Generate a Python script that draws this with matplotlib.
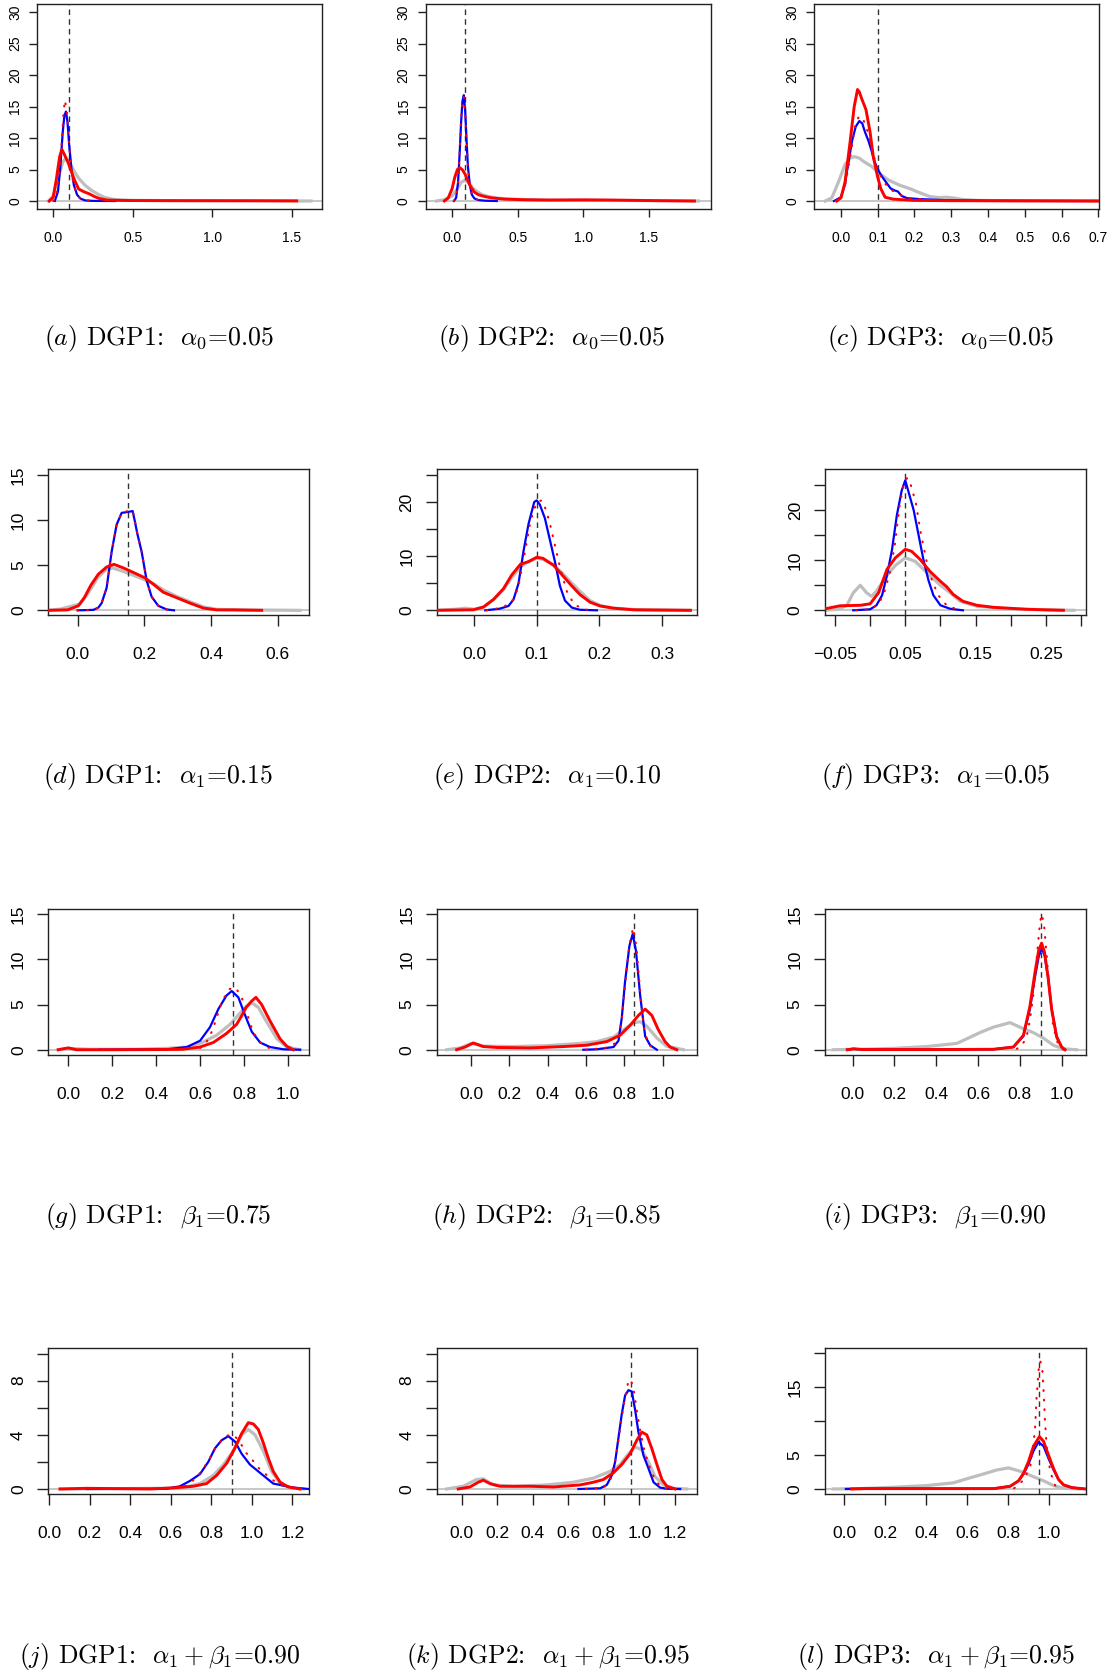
import matplotlib
matplotlib.use("Agg")
import matplotlib.pyplot as plt
from matplotlib import font_manager

# ---------------- data ----------------
# panel (a)
a_gray_x = [-0.03, 0.0, 0.03, 0.06, 0.08, 0.10, 0.13, 0.16, 0.20, 0.24, 0.28, 0.32, 0.38, 0.5, 0.8, 1.2, 1.62]
a_gray_y = [0.0, 0.8, 3.5, 6.2, 6.8, 6.2, 4.8, 3.6, 2.5, 1.7, 1.1, 0.6, 0.25, 0.1, 0.05, 0.03, 0.0]
a_blue_x = [0.01, 0.03, 0.045, 0.06, 0.07, 0.08, 0.09, 0.10, 0.115, 0.13, 0.15, 0.17, 0.2, 0.25, 0.39]
a_blue_y = [0.0, 1.5, 5.5, 11.0, 13.5, 14.2, 12.5, 9.0, 5.0, 2.5, 1.0, 0.4, 0.1, 0.02, 0.0]
a_dot_x = [0.0, 0.02, 0.04, 0.055, 0.065, 0.073, 0.085, 0.095, 0.11, 0.125, 0.145, 0.17, 0.2, 0.27]
a_dot_y = [0.0, 0.8, 4.5, 10.0, 14.0, 16.0, 14.5, 10.5, 6.0, 3.0, 1.2, 0.4, 0.1, 0.0]
a_red_x = [-0.025, 0.0, 0.02, 0.04, 0.054, 0.07, 0.095, 0.115, 0.136, 0.16, 0.19, 0.23, 0.26, 0.29, 0.34, 0.45, 0.7, 1.0, 1.3, 1.53]
a_red_y = [0.0, 0.6, 3.5, 7.0, 8.2, 7.4, 6.0, 4.6, 3.2, 1.9, 1.5, 1.1, 0.7, 0.4, 0.15, 0.08, 0.06, 0.05, 0.04, 0.02]

# panel (b)
b_gray_x = [-0.12, -0.06, 0.0, 0.04, 0.07, 0.097, 0.13, 0.16, 0.19, 0.23, 0.28, 0.35, 0.45, 0.7, 1.0, 1.4, 1.88]
b_gray_y = [0.0, 0.2, 0.8, 2.0, 3.0, 3.3, 2.8, 2.0, 1.5, 1.0, 0.7, 0.45, 0.3, 0.15, 0.12, 0.08, 0.0]
b_blue_x = [0.013, 0.03, 0.045, 0.058, 0.068, 0.078, 0.089, 0.1, 0.11, 0.12, 0.135, 0.15, 0.17, 0.2, 0.25, 0.34]
b_blue_y = [0.0, 0.5, 3.0, 8.0, 12.5, 15.8, 16.8, 14.0, 9.5, 5.5, 2.5, 1.0, 0.4, 0.15, 0.05, 0.0]
b_dot_x = [0.013, 0.03, 0.045, 0.058, 0.068, 0.078, 0.089, 0.1, 0.11, 0.12, 0.135, 0.15, 0.17, 0.2, 0.25]
b_dot_y = [0.0, 0.5, 3.0, 8.5, 13.0, 16.2, 16.5, 14.0, 9.5, 5.5, 2.5, 1.0, 0.4, 0.15, 0.05]
b_red_x = [-0.06, -0.03, 0.0, 0.02, 0.04, 0.058, 0.08, 0.1, 0.12, 0.14, 0.17, 0.2, 0.25, 0.3, 0.4, 0.55, 0.75, 1.0, 1.2, 1.4, 1.6, 1.85]
b_red_y = [0.0, 0.5, 2.0, 3.8, 5.0, 5.3, 4.9, 4.2, 3.2, 2.3, 1.4, 1.0, 0.7, 0.5, 0.3, 0.2, 0.15, 0.18, 0.15, 0.1, 0.05, 0.0]

# panel (c)
c_gray_x = [-0.043, -0.025, -0.007, 0.011, 0.025, 0.036, 0.05, 0.061, 0.083, 0.106, 0.13, 0.16, 0.19, 0.215, 0.242, 0.265, 0.287, 0.31, 0.33, 0.37, 0.45, 0.6, 0.7]
c_gray_y = [0.0, 0.5, 3.0, 5.8, 6.8, 7.05, 6.8, 6.3, 5.5, 4.3, 3.3, 2.5, 1.9, 1.3, 0.7, 0.55, 0.6, 0.45, 0.25, 0.1, 0.05, 0.02, 0.0]
c_blue_x = [-0.019, 0.0, 0.01, 0.02, 0.03, 0.04, 0.05, 0.058, 0.065, 0.075, 0.083, 0.09, 0.098, 0.107, 0.115, 0.125, 0.135, 0.145, 0.155, 0.165, 0.18, 0.215, 0.28, 0.4, 0.55, 0.7]
c_blue_y = [0.0, 0.6, 2.5, 6.0, 9.5, 11.8, 12.7, 12.3, 11.0, 9.5, 8.0, 6.5, 5.3, 4.3, 3.6, 2.8, 2.0, 1.7, 1.5, 0.8, 0.45, 0.3, 0.15, 0.05, 0.02, 0.0]
c_dot_x = [-0.01, 0.01, 0.025, 0.04, 0.05, 0.06, 0.07, 0.08, 0.09, 0.1, 0.115, 0.13, 0.15, 0.18, 0.25]
c_dot_y = [0.0, 2.0, 7.0, 12.5, 13.5, 13.0, 11.5, 9.5, 7.0, 5.0, 3.2, 2.0, 1.3, 0.5, 0.1]
c_red_x = [-0.012, 0.0, 0.011, 0.024, 0.036, 0.045, 0.05, 0.056, 0.068, 0.079, 0.088, 0.099, 0.108, 0.12, 0.142, 0.197, 0.3, 0.5, 0.7]
c_red_y = [0.0, 0.5, 3.0, 9.0, 15.0, 17.7, 17.3, 16.3, 14.5, 11.0, 7.0, 4.0, 2.0, 0.6, 0.3, 0.1, 0.05, 0.02, 0.0]

# panel (d)
d_gray_x = [-0.088, -0.05, -0.02, 0.007, 0.03, 0.06, 0.085, 0.105, 0.13, 0.16, 0.2, 0.23, 0.26, 0.3, 0.34, 0.38, 0.42, 0.5, 0.667]
d_gray_y = [0.0, 0.15, 0.45, 0.7, 1.8, 3.6, 4.5, 4.7, 4.4, 4.0, 3.4, 2.9, 2.2, 1.5, 0.9, 0.35, 0.1, 0.05, 0.0]
d_blue_x = [0.0, 0.047, 0.062, 0.072, 0.087, 0.102, 0.117, 0.132, 0.15, 0.165, 0.172, 0.179, 0.192, 0.207, 0.222, 0.242, 0.267, 0.289]
d_blue_y = [0.0, 0.05, 0.3, 0.8, 2.5, 6.5, 9.5, 10.8, 10.9, 11.0, 9.8, 8.5, 6.5, 3.3, 1.5, 0.5, 0.1, 0.0]
d_dot_x = [0.0, 0.047, 0.062, 0.072, 0.087, 0.102, 0.117, 0.132, 0.15, 0.165, 0.172, 0.179, 0.192, 0.207, 0.222, 0.242, 0.267, 0.289]
d_dot_y = [0.0, 0.05, 0.3, 0.8, 2.5, 6.5, 9.5, 10.8, 11.0, 11.1, 9.8, 8.5, 6.5, 3.3, 1.5, 0.5, 0.1, 0.0]
d_red_x = [-0.088, -0.03, 0.002, 0.02, 0.04, 0.062, 0.087, 0.109, 0.137, 0.167, 0.202, 0.227, 0.257, 0.297, 0.337, 0.377, 0.417, 0.467, 0.552]
d_red_y = [0.0, 0.05, 0.5, 1.4, 2.8, 4.0, 4.8, 5.1, 4.7, 4.2, 3.6, 2.9, 2.0, 1.4, 0.8, 0.25, 0.05, 0.05, 0.0]

# panel (e)
e_gray_x = [-0.06, -0.03, -0.014, 0.0, 0.015, 0.031, 0.047, 0.06, 0.074, 0.087, 0.1, 0.11, 0.127, 0.143, 0.156, 0.169, 0.185, 0.201, 0.222, 0.26, 0.345]
e_gray_y = [0.0, 0.2, 0.4, 0.2, 0.6, 2.0, 3.8, 6.0, 8.0, 9.0, 9.6, 9.4, 8.4, 6.6, 5.0, 3.5, 1.8, 0.9, 0.4, 0.1, 0.0]
e_blue_x = [0.018, 0.041, 0.055, 0.063, 0.071, 0.079, 0.087, 0.096, 0.1, 0.105, 0.113, 0.121, 0.129, 0.137, 0.145, 0.156, 0.169, 0.196]
e_blue_y = [0.0, 0.3, 0.8, 2.0, 5.0, 11.0, 16.0, 20.0, 20.3, 19.5, 17.0, 13.0, 9.0, 4.5, 1.8, 0.5, 0.1, 0.0]
e_dot_x = [0.02, 0.045, 0.06, 0.07, 0.08, 0.09, 0.1, 0.108, 0.115, 0.122, 0.13, 0.138, 0.148, 0.16, 0.18]
e_dot_y = [0.0, 0.5, 1.5, 4.0, 10.0, 16.5, 20.0, 20.3, 18.5, 15.5, 11.5, 7.5, 3.5, 1.0, 0.1]
e_red_x = [-0.06, -0.001, 0.015, 0.031, 0.047, 0.06, 0.074, 0.087, 0.1, 0.11, 0.127, 0.143, 0.156, 0.169, 0.185, 0.201, 0.222, 0.254, 0.345]
e_red_y = [0.0, 0.1, 0.6, 2.0, 4.0, 6.5, 8.5, 9.0, 9.8, 9.6, 8.3, 6.2, 4.5, 2.9, 1.5, 0.8, 0.4, 0.1, 0.0]

# panel (f)
f_gray_x = [-0.064, -0.045, -0.033, -0.024, -0.014, -0.005, 0.002, 0.009, 0.024, 0.036, 0.05, 0.064, 0.081, 0.1, 0.114, 0.128, 0.152, 0.199, 0.25, 0.29]
f_gray_y = [0.0, 0.2, 1.0, 3.5, 5.0, 3.5, 2.8, 3.8, 7.0, 9.0, 10.5, 9.8, 7.5, 5.0, 3.5, 1.8, 0.8, 0.3, 0.1, 0.0]
f_blue_x = [-0.024, 0.0, 0.009, 0.017, 0.024, 0.031, 0.038, 0.045, 0.05, 0.056, 0.062, 0.069, 0.076, 0.083, 0.09, 0.1, 0.114, 0.132]
f_blue_y = [0.0, 0.2, 1.0, 3.0, 7.0, 12.0, 19.0, 24.0, 26.0, 23.0, 20.0, 15.0, 10.0, 6.0, 3.0, 1.0, 0.3, 0.0]
f_dot_x = [-0.02, 0.0, 0.012, 0.02, 0.028, 0.035, 0.042, 0.048, 0.053, 0.058, 0.065, 0.072, 0.08, 0.088, 0.097, 0.11, 0.125]
f_dot_y = [0.0, 0.2, 1.2, 3.5, 7.5, 13.0, 21.0, 25.5, 26.5, 25.0, 21.5, 15.5, 10.0, 6.0, 3.0, 0.8, 0.2]
f_red_x = [-0.064, -0.043, -0.014, 0.0, 0.012, 0.024, 0.036, 0.05, 0.059, 0.071, 0.085, 0.1, 0.109, 0.118, 0.132, 0.152, 0.175, 0.223, 0.275]
f_red_y = [0.3, 0.9, 1.0, 1.3, 3.5, 8.2, 10.5, 12.2, 11.8, 10.2, 7.8, 5.8, 4.7, 3.2, 1.8, 1.0, 0.6, 0.2, 0.0]

# panel (g)
g_gray_x = [-0.046, 0.0, 0.1, 0.3, 0.45, 0.54, 0.61, 0.675, 0.736, 0.78, 0.81, 0.835, 0.865, 0.9, 0.95, 0.994, 1.055]
g_gray_y = [0.0, 0.15, 0.05, 0.05, 0.15, 0.3, 0.8, 1.6, 2.8, 4.0, 4.8, 5.2, 4.7, 3.2, 1.2, 0.3, 0.0]
g_blue_x = [0.14, 0.45, 0.54, 0.6, 0.645, 0.683, 0.72, 0.744, 0.774, 0.805, 0.835, 0.873, 0.918, 0.979, 1.055]
g_blue_y = [0.0, 0.05, 0.3, 1.0, 2.5, 4.5, 6.0, 6.5, 5.8, 3.8, 2.0, 0.8, 0.3, 0.05, 0.0]
g_dot_x = [0.6, 0.62, 0.645, 0.665, 0.685, 0.705, 0.733, 0.76, 0.785, 0.805, 0.82, 0.84, 0.87, 0.9, 0.94]
g_dot_y = [0.2, 0.5, 1.5, 2.8, 4.3, 5.6, 6.7, 6.9, 6.0, 4.8, 3.5, 2.0, 0.9, 0.3, 0.05]
g_red_x = [-0.046, 0.0, 0.038, 0.2, 0.4, 0.52, 0.6, 0.66, 0.72, 0.766, 0.79, 0.81, 0.835, 0.854, 0.88, 0.918, 0.964, 0.994, 1.024]
g_red_y = [0.0, 0.2, 0.0, 0.0, 0.02, 0.05, 0.3, 0.8, 1.8, 2.8, 3.8, 4.7, 5.4, 5.8, 5.0, 3.2, 1.2, 0.4, 0.0]

# panel (h)
h_gray_x = [-0.127, -0.057, 0.003, 0.064, 0.22, 0.395, 0.569, 0.656, 0.743, 0.795, 0.847, 0.882, 0.917, 0.969, 1.02, 1.108]
h_gray_y = [0.0, 0.2, 0.7, 0.4, 0.35, 0.45, 0.7, 0.9, 1.4, 2.2, 3.0, 3.1, 2.6, 1.3, 0.4, 0.0]
h_blue_x = [0.586, 0.656, 0.743, 0.769, 0.786, 0.803, 0.826, 0.843, 0.86, 0.882, 0.908, 0.934, 0.969]
h_blue_y = [0.0, 0.05, 0.3, 1.0, 3.5, 7.5, 11.5, 12.8, 11.0, 6.0, 1.5, 0.5, 0.0]
h_dot_x = [0.6, 0.7, 0.76, 0.785, 0.805, 0.825, 0.845, 0.862, 0.88, 0.9, 0.925, 0.96]
h_dot_y = [0.0, 0.2, 0.8, 3.0, 7.5, 11.5, 13.5, 11.5, 7.0, 2.5, 0.6, 0.0]
h_red_x = [-0.075, -0.031, 0.012, 0.064, 0.134, 0.308, 0.482, 0.603, 0.708, 0.777, 0.83, 0.873, 0.908, 0.943, 0.977, 1.012, 1.038, 1.073]
h_red_y = [0.0, 0.3, 0.75, 0.35, 0.25, 0.2, 0.35, 0.5, 0.9, 1.6, 2.7, 3.8, 4.5, 3.8, 2.2, 0.9, 0.3, 0.0]

# panel (i)
i_gray_x = [-0.093, 0.035, 0.195, 0.354, 0.498, 0.545, 0.609, 0.673, 0.753, 0.8, 0.864, 0.912, 0.96, 1.008, 1.072]
i_gray_y = [0.0, 0.05, 0.15, 0.35, 0.7, 1.2, 1.9, 2.5, 3.0, 2.5, 1.9, 1.3, 0.5, 0.1, 0.0]
i_blue_x = [-0.026, 0.003, 0.05, 0.4, 0.673, 0.769, 0.817, 0.848, 0.872, 0.89, 0.904, 0.918, 0.935, 0.952, 0.976, 1.0, 1.016]
i_blue_y = [0.0, 0.1, 0.02, 0.02, 0.05, 0.3, 1.5, 4.5, 8.0, 10.3, 11.2, 10.5, 8.0, 4.5, 1.5, 0.3, 0.0]
i_dot_x = [0.785, 0.809, 0.833, 0.848, 0.864, 0.88, 0.896, 0.904, 0.915, 0.928, 0.944, 0.96, 0.984, 1.008]
i_dot_y = [0.1, 0.4, 1.5, 3.3, 6.0, 10.0, 14.0, 15.0, 14.0, 10.5, 6.0, 2.5, 0.5, 0.0]
i_red_x = [-0.026, 0.003, 0.05, 0.4, 0.673, 0.769, 0.817, 0.848, 0.872, 0.89, 0.904, 0.918, 0.935, 0.952, 0.976, 1.0, 1.016]
i_red_y = [0.0, 0.1, 0.02, 0.02, 0.05, 0.3, 1.6, 4.8, 8.5, 11.0, 11.8, 10.8, 8.0, 4.5, 1.4, 0.3, 0.0]

# panel (j)
j_gray_x = [0.053, 0.3, 0.55, 0.66, 0.744, 0.81, 0.86, 0.909, 0.95, 0.983, 1.016, 1.057, 1.098, 1.14, 1.19, 1.254]
j_gray_y = [0.0, 0.02, 0.05, 0.1, 0.4, 1.0, 1.8, 2.8, 4.0, 4.4, 4.0, 2.8, 1.3, 0.4, 0.1, 0.0]
j_blue_x = [0.184, 0.58, 0.645, 0.695, 0.744, 0.785, 0.818, 0.851, 0.884, 0.917, 0.95, 0.991, 1.032, 1.073, 1.106, 1.156, 1.205, 1.28]
j_blue_y = [0.0, 0.02, 0.2, 0.6, 1.1, 2.0, 3.0, 3.6, 3.9, 3.5, 2.6, 1.8, 1.3, 0.8, 0.4, 0.25, 0.1, 0.0]
j_dot_x = [0.67, 0.7, 0.73, 0.76, 0.79, 0.82, 0.85, 0.88, 0.91, 0.94, 0.97, 1.0, 1.03, 1.06, 1.1, 1.14, 1.2, 1.25]
j_dot_y = [0.2, 0.5, 0.9, 1.5, 2.2, 3.0, 3.6, 3.95, 4.0, 3.5, 2.7, 2.2, 1.6, 1.2, 0.7, 0.3, 0.1, 0.0]
j_red_x = [0.053, 0.184, 0.497, 0.612, 0.711, 0.777, 0.826, 0.876, 0.909, 0.95, 0.983, 1.008, 1.032, 1.057, 1.081, 1.106, 1.14, 1.18, 1.238]
j_red_y = [0.0, 0.05, 0.0, 0.08, 0.2, 0.4, 1.0, 1.9, 2.8, 4.1, 4.9, 4.8, 4.4, 3.4, 2.3, 1.3, 0.5, 0.15, 0.0]

# panel (k)
k_gray_x = [-0.084, 0.009, 0.084, 0.122, 0.178, 0.29, 0.478, 0.628, 0.741, 0.835, 0.891, 0.938, 0.976, 1.013, 1.05, 1.088, 1.135, 1.191, 1.266]
k_gray_y = [0.0, 0.2, 0.7, 0.75, 0.3, 0.2, 0.3, 0.5, 0.8, 1.3, 1.8, 2.6, 3.1, 2.9, 2.0, 0.9, 0.3, 0.05, 0.0]
k_blue_x = [0.657, 0.779, 0.816, 0.844, 0.863, 0.882, 0.9, 0.919, 0.938, 0.957, 0.976, 0.994, 1.022, 1.051, 1.079, 1.116, 1.154, 1.229]
k_blue_y = [0.0, 0.05, 0.3, 1.0, 2.0, 3.8, 5.5, 6.9, 7.3, 7.2, 5.8, 4.2, 2.5, 1.5, 0.5, 0.1, 0.02, 0.0]
k_dot_x = [0.7, 0.8, 0.84, 0.87, 0.895, 0.915, 0.935, 0.95, 0.965, 0.985, 1.005, 1.03, 1.06, 1.09, 1.12, 1.15]
k_dot_y = [0.0, 0.1, 0.8, 2.5, 4.8, 6.5, 7.8, 8.1, 7.5, 5.8, 4.2, 2.7, 1.5, 0.6, 0.2, 0.0]
k_red_x = [-0.019, 0.047, 0.094, 0.122, 0.159, 0.216, 0.385, 0.516, 0.666, 0.741, 0.797, 0.854, 0.9, 0.947, 0.985, 1.013, 1.041, 1.069, 1.098, 1.126, 1.154, 1.2]
k_red_y = [0.0, 0.15, 0.5, 0.65, 0.4, 0.2, 0.2, 0.15, 0.3, 0.5, 0.7, 1.2, 1.8, 2.6, 3.6, 4.2, 4.0, 3.0, 1.8, 0.7, 0.2, 0.0]

# panel (l)
l_gray_x = [-0.054, 0.077, 0.24, 0.403, 0.533, 0.599, 0.68, 0.746, 0.803, 0.86, 0.925, 0.974, 1.023, 1.072, 1.153]
l_gray_y = [0.0, 0.05, 0.25, 0.5, 0.9, 1.5, 2.2, 2.8, 3.1, 2.6, 1.8, 1.2, 0.5, 0.1, 0.0]
l_blue_x = [0.008, 0.1, 0.4, 0.73, 0.811, 0.852, 0.876, 0.9, 0.925, 0.949, 0.974, 0.998, 1.023, 1.047, 1.072, 1.113, 1.178]
l_blue_y = [0.0, 0.05, 0.05, 0.05, 0.4, 1.2, 2.2, 3.6, 5.6, 6.9, 6.3, 4.5, 2.8, 1.4, 0.6, 0.2, 0.0]
l_dot_x = [0.83, 0.876, 0.909, 0.925, 0.933, 0.94, 0.95, 0.958, 0.967, 0.975, 0.981, 0.99, 1.007, 1.031, 1.055]
l_dot_y = [0.1, 1.3, 3.3, 6.5, 9.2, 13.5, 17.5, 18.8, 18.0, 14.0, 10.0, 6.0, 2.5, 0.5, 0.0]
l_red_x = [0.036, 0.1, 0.4, 0.73, 0.811, 0.852, 0.876, 0.9, 0.925, 0.954, 0.974, 0.998, 1.023, 1.047, 1.072, 1.113, 1.178]
l_red_y = [0.0, 0.05, 0.05, 0.05, 0.4, 1.2, 2.3, 4.0, 6.3, 7.7, 7.0, 5.0, 3.0, 1.4, 0.6, 0.2, 0.0]

true_values = [0.1, 0.1, 0.1, 0.15, 0.10, 0.05, 0.75, 0.85, 0.90, 0.90, 0.95, 0.95]

captions = [
    r"$\mathit{(a)}$ DGP1:  $\alpha_0$=0.05",
    r"$\mathit{(b)}$ DGP2:  $\alpha_0$=0.05",
    r"$\mathit{(c)}$ DGP3:  $\alpha_0$=0.05",
    r"$\mathit{(d)}$ DGP1:  $\alpha_1$=0.15",
    r"$\mathit{(e)}$ DGP2:  $\alpha_1$=0.10",
    r"$\mathit{(f)}$ DGP3:  $\alpha_1$=0.05",
    r"$\mathit{(g)}$ DGP1:  $\beta_1$=0.75",
    r"$\mathit{(h)}$ DGP2:  $\beta_1$=0.85",
    r"$\mathit{(i)}$ DGP3:  $\beta_1$=0.90",
    r"$\mathit{(j)}$ DGP1:  $\alpha_1+\beta_1$=0.90",
    r"$\mathit{(k)}$ DGP2:  $\alpha_1+\beta_1$=0.95",
    r"$\mathit{(l)}$ DGP3:  $\alpha_1+\beta_1$=0.95",
]

xticks_list = [
    [0.0, 0.5, 1.0, 1.5], [0.0, 0.5, 1.0, 1.5],
    [0.0, 0.1, 0.2, 0.3, 0.4, 0.5, 0.6, 0.7],
    [0.0, 0.2, 0.4, 0.6], [0.0, 0.1, 0.2, 0.3],
    [-0.05, 0.0, 0.05, 0.1, 0.15, 0.2, 0.25, 0.3],
    [0.0, 0.2, 0.4, 0.6, 0.8, 1.0], [0.0, 0.2, 0.4, 0.6, 0.8, 1.0], [0.0, 0.2, 0.4, 0.6, 0.8, 1.0],
    [0.0, 0.2, 0.4, 0.6, 0.8, 1.0, 1.2], [0.0, 0.2, 0.4, 0.6, 0.8, 1.0, 1.2], [0.0, 0.2, 0.4, 0.6, 0.8, 1.0],
]
xlabels_list = [
    ["0.0", "0.5", "1.0", "1.5"], ["0.0", "0.5", "1.0", "1.5"],
    ["0.0", "0.1", "0.2", "0.3", "0.4", "0.5", "0.6", "0.7"],
    ["0.0", "0.2", "0.4", "0.6"], ["0.0", "0.1", "0.2", "0.3"],
    ["\u22120.05", "", "0.05", "", "0.15", "", "0.25", ""],
    ["0.0", "0.2", "0.4", "0.6", "0.8", "1.0"], ["0.0", "0.2", "0.4", "0.6", "0.8", "1.0"],
    ["0.0", "0.2", "0.4", "0.6", "0.8", "1.0"],
    ["0.0", "0.2", "0.4", "0.6", "0.8", "1.0", "1.2"], ["0.0", "0.2", "0.4", "0.6", "0.8", "1.0", "1.2"],
    ["0.0", "0.2", "0.4", "0.6", "0.8", "1.0"],
]
yticks_list = [
    [0, 5, 10, 15, 20, 25, 30]] * 3 + [
    [0, 5, 10, 15], [0, 5, 10, 15, 20, 25], [0, 5, 10, 15, 20, 25]] + [
    [0, 5, 10, 15]] * 3 + [
    [0, 2, 4, 6, 8, 10], [0, 2, 4, 6, 8, 10], [0, 5, 10, 15, 20]]
ylabels_list = [
    ["0", "5", "10", "15", "20", "25", "30"]] * 3 + [
    ["0", "5", "10", "15"], ["0", "", "10", "", "20", ""], ["0", "", "10", "", "20", ""]] + [
    ["0", "5", "10", "15"]] * 3 + [
    ["0", "", "4", "", "8", ""], ["0", "", "4", "", "8", ""], ["0", "5", "", "15", ""]]

# ---------------- layout (pixels of the 1115x1673 canvas) ----------------
W, H = 1115, 1673
boxes = [  # left, right, top, bottom
    (37.3, 322.0, 4.0, 208.7), (426.0, 710.7, 4.0, 208.7), (814.3, 1099.0, 4.0, 208.7),
    (48.3, 309.0, 469.3, 615.3), (436.7, 697.3, 469.3, 615.3), (825.0, 1085.7, 469.3, 615.3),
    (48.3, 309.0, 909.0, 1054.7), (436.7, 697.3, 909.0, 1054.7), (825.0, 1085.7, 909.0, 1054.7),
    (48.3, 309.0, 1348.3, 1494.0), (436.7, 697.3, 1348.3, 1494.0), (825.0, 1085.7, 1348.3, 1494.0),
]
xlims = [(-0.10, 1.689), (-0.20, 1.974), (-0.0726, 0.702),
         (-0.088, 0.694), (-0.0595, 0.356), (-0.0642, 0.3067),
         (-0.091, 1.0956), (-0.179, 1.18), (-0.1325, 1.115),
         (-0.005, 1.2825), (-0.14, 1.325), (-0.094, 1.18)]
ylims = [(-1.22, 31.27)] * 3 + [(-0.55, 15.63), (-0.92, 26.04), (-1.0, 28.2)] + \
        [(-0.55, 15.58)] * 3 + [(-0.37, 10.39), (-0.37, 10.39), (-0.74, 20.69)]
cap_pos = [(159, 345), (552, 345), (941, 345),
           (158, 783), (547, 783), (935, 783),
           (158, 1223), (547, 1223), (935, 1223),
           (160, 1663), (548, 1663), (936, 1663)]

names = {f.name for f in font_manager.fontManager.ttflist}
tick_family = "Liberation Sans Narrow" if "Liberation Sans Narrow" in names else "Liberation Sans"
narrow = tick_family == "Liberation Sans Narrow"

plt.rcParams["mathtext.fontset"] = "cm"

series = {
    "a": (a_gray_x, a_gray_y, a_blue_x, a_blue_y, a_dot_x, a_dot_y, a_red_x, a_red_y),
    "b": (b_gray_x, b_gray_y, b_blue_x, b_blue_y, b_dot_x, b_dot_y, b_red_x, b_red_y),
    "c": (c_gray_x, c_gray_y, c_blue_x, c_blue_y, c_dot_x, c_dot_y, c_red_x, c_red_y),
    "d": (d_gray_x, d_gray_y, d_blue_x, d_blue_y, d_dot_x, d_dot_y, d_red_x, d_red_y),
    "e": (e_gray_x, e_gray_y, e_blue_x, e_blue_y, e_dot_x, e_dot_y, e_red_x, e_red_y),
    "f": (f_gray_x, f_gray_y, f_blue_x, f_blue_y, f_dot_x, f_dot_y, f_red_x, f_red_y),
    "g": (g_gray_x, g_gray_y, g_blue_x, g_blue_y, g_dot_x, g_dot_y, g_red_x, g_red_y),
    "h": (h_gray_x, h_gray_y, h_blue_x, h_blue_y, h_dot_x, h_dot_y, h_red_x, h_red_y),
    "i": (i_gray_x, i_gray_y, i_blue_x, i_blue_y, i_dot_x, i_dot_y, i_red_x, i_red_y),
    "j": (j_gray_x, j_gray_y, j_blue_x, j_blue_y, j_dot_x, j_dot_y, j_red_x, j_red_y),
    "k": (k_gray_x, k_gray_y, k_blue_x, k_blue_y, k_dot_x, k_dot_y, k_red_x, k_red_y),
    "l": (l_gray_x, l_gray_y, l_blue_x, l_blue_y, l_dot_x, l_dot_y, l_red_x, l_red_y),
}

fig = plt.figure(figsize=(W / 100, H / 100), dpi=100)
fig.patch.set_facecolor("white")

for idx, key in enumerate("abcdefghijkl"):
    L, R, T, B = boxes[idx]
    ax = fig.add_axes([L / W, 1 - B / H, (R - L) / W, (B - T) / H])
    gx, gy, bx, by, dx, dy, rx, ry = series[key]
    ax.axhline(0, color="#BEBEBE", lw=1.2, zorder=1)
    ax.plot(gx, gy, color="#BEBEBE", lw=2.3, zorder=2, solid_joinstyle="round")
    ax.axvline(true_values[idx], color="#333333", lw=1.0, ls=(0, (4, 3)), zorder=3)
    ax.plot(bx, by, color="#0000FF", lw=1.6, zorder=4, solid_joinstyle="round")
    ax.plot(dx, dy, color="#FF0000", lw=1.5, ls=(0, (0.4, 4.2)), dash_capstyle="round", zorder=5)
    ax.plot(rx, ry, color="#FF0000", lw=2.1, zorder=6, solid_joinstyle="round")
    ax.set_xlim(*xlims[idx])
    ax.set_ylim(*ylims[idx])

    row = idx // 3
    fs = 10 if row == 0 else (14 if narrow else 12.5)
    tl = 6 if row == 0 else 8
    xpad = 10 if row == 0 else 15
    ypad = 5 if row == 0 else 8
    ax.set_xticks(xticks_list[idx])
    ax.set_xticklabels(xlabels_list[idx], fontfamily=tick_family, fontsize=fs)
    ax.set_yticks(yticks_list[idx])
    ax.set_yticklabels(ylabels_list[idx], fontfamily=tick_family, fontsize=fs,
                       rotation=90, va="center")
    ax.tick_params(axis="x", direction="out", length=tl, width=1.0, pad=xpad, color="#222222")
    ax.tick_params(axis="y", direction="out", length=tl, width=1.0, pad=ypad, color="#222222")
    for sp in ax.spines.values():
        sp.set_linewidth(1.0)
        sp.set_color("#222222")

    cx, cy = cap_pos[idx]
    fig.text(cx / W, 1 - cy / H, captions[idx], ha="center", va="baseline",
             fontsize=18.5, fontfamily="cmr10")

fig.savefig("out.png", dpi=100, facecolor="white")
